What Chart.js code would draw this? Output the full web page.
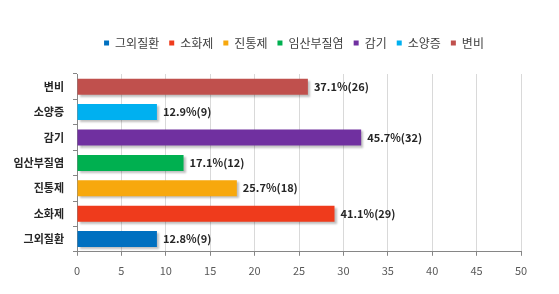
<!DOCTYPE html>
<html>
<head>
<meta charset="utf-8">
<script src="https://cdn.jsdelivr.net/npm/chart.js@4"></script>
<style>
html,body{margin:0;padding:0;background:#fff;}
#wrap{width:559px;height:294px;}
</style>
</head>
<body>
<div id="wrap"><canvas id="c" width="559" height="294"></canvas></div>
<script>
const categories = ['그외질환','소화제','진통제','임산부질염','감기','소양증','변비'];
const counts = [9, 29, 18, 12, 32, 9, 26];
const percents = ['12.8','41.1','25.7','17.1','45.7','12.9','37.1'];
const colors = ['#0070c0','#ef3b1c','#f7a80d','#00b050','#7030a0','#00b0f0','#c0504d'];
const xTicks = [0,5,10,15,20,25,30,35,40,45,50];

const FONT = "'Noto Sans CJK KR', 'Noto Sans', sans-serif";

const shadowPlugin = {
  id: 'shadow',
  beforeDatasetsDraw(chart) {
    const ctx = chart.ctx;
    ctx.save();
    ctx.shadowColor = 'rgba(0,0,0,0.25)';
    ctx.shadowOffsetX = 2;
    ctx.shadowOffsetY = 2;
    ctx.shadowBlur = 2;
  },
  afterDatasetsDraw(chart) {
    chart.ctx.restore();
  }
};

const legendShift = {
  id: 'legendShift',
  afterLayout(chart) {
    const lg = chart.legend;
    if (!lg) return;
    const ca = chart.chartArea;
    const w = lg.right - lg.left;
    const center = (ca.left + ca.right) / 2 - 5;
    lg.left = center - w / 2;
    lg.right = center + w / 2;
    const h = lg.bottom - lg.top;
    lg.top = 27;
    lg.bottom = lg.top + h;
  }
};

const labelPlugin = {
  id: 'valueLabels',
  afterDatasetsDraw(chart) {
    const ctx = chart.ctx;
    const meta = chart.getDatasetMeta(0);
    ctx.save();
    ctx.font = "600 11px " + FONT;
    ctx.fillStyle = '#262626';
    ctx.textAlign = 'left';
    ctx.textBaseline = 'middle';
    meta.data.forEach((bar, i) => {
      ctx.fillText(percents[i] + '%(' + counts[i] + ')', bar.x + 6, bar.y);
    });
    ctx.restore();
  }
};

new Chart(document.getElementById('c'), {
  type: 'bar',
  data: {
    labels: categories,
    datasets: [{
      data: counts,
      backgroundColor: colors,
      borderWidth: 0,
      categoryPercentage: 0.63,
      barPercentage: 1.0
    }]
  },
  plugins: [shadowPlugin, labelPlugin, legendShift],
  options: {
    indexAxis: 'y',
    responsive: false,
    animation: false,
    devicePixelRatio: 1,
    layout: { padding: { left: 0, right: 38, top: 42, bottom: 9 } },
    plugins: {
      tooltip: { enabled: false },
      legend: {
        display: true,
        position: 'top',
        labels: {
          boxWidth: 5,
          boxHeight: 5,
          padding: 10,
          color: '#404040',
          font: { family: FONT, size: 12 },
          generateLabels() {
            return categories.map((c, i) => ({
              text: c,
              fillStyle: colors[i],
              strokeStyle: colors[i],
              lineWidth: 0,
              hidden: false,
              index: i,
              fontColor: '#404040'
            }));
          }
        },
        onClick() {}
      }
    },
    scales: {
      x: {
        type: 'linear',
        min: 0,
        max: 50,
        afterBuildTicks(scale) { scale.ticks = xTicks.map(v => ({ value: v })); },
        ticks: {
          color: '#595959',
          font: { family: FONT, size: 11 },
          padding: 8
        },
        grid: {
          color: '#d9d9d9',
          drawTicks: true,
          tickLength: 4,
          tickColor: '#868686'
        },
        border: { display: true, color: '#868686' }
      },
      y: {
        reverse: true,
        afterFit(scale) { scale.width = 77; },
        ticks: {
          color: '#262626',
          font: { family: FONT, size: 11, weight: 'bold' },
          padding: 9
        },
        grid: {
          offset: true,
          drawOnChartArea: false,
          drawTicks: true,
          tickLength: 4,
          tickColor: '#868686'
        },
        border: { display: true, color: '#868686' }
      }
    }
  }
});
</script>
</body>
</html>
